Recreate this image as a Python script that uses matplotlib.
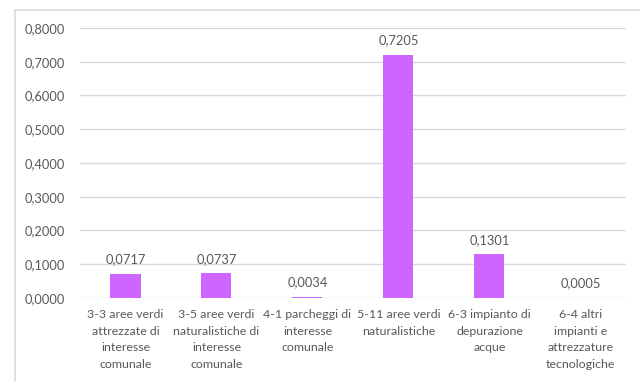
import matplotlib.pyplot as plt
from matplotlib.ticker import FuncFormatter, MultipleLocator
from matplotlib.lines import Line2D

# Data
categories = [
    "3-3 aree verdi\nattrezzate di\ninteresse\ncomunale",
    "3-5 aree verdi\nnaturalistiche di\ninteresse\ncomunale",
    "4-1 parcheggi di\ninteresse\ncomunale",
    "5-11 aree verdi\nnaturalistiche",
    "6-3 impianto di\ndepurazione\nacque",
    "6-4 altri\nimpianti e\nattrezzature\ntecnologiche",
]
values = [0.0717, 0.0737, 0.0034, 0.7205, 0.1301, 0.0005]

bar_color = "#cc66ff"
text_color = "#595959"
grid_color = "#d9d9d9"

plt.rcParams['font.family'] = ['Lato', 'DejaVu Sans']

fig = plt.figure(figsize=(6.4, 3.81), dpi=100)
ax = fig.add_axes([0.125, 0.218, 0.853, 0.7085])

x = range(len(values))
bars = ax.bar(x, values, width=0.33, color=bar_color, zorder=3)

def comma_fmt(v, pos=None):
    return f"{v:.4f}".replace(".", ",")

for xi, v in zip(x, values):
    ax.annotate(comma_fmt(v), (xi, v), xytext=(0, 6), textcoords="offset points",
                ha="center", va="bottom", fontsize=9.3, color=text_color)

ax.set_ylim(0, 0.8)
ax.set_xlim(-0.5, len(values) - 0.5)
ax.yaxis.set_major_locator(MultipleLocator(0.1))
ax.yaxis.set_major_formatter(FuncFormatter(comma_fmt))
ax.set_xticks(list(x))
ax.set_xticklabels(categories, linespacing=1.62)
ax.tick_params(axis="both", length=0, colors=text_color)
ax.tick_params(axis="x", pad=8, labelsize=8.9)
ax.tick_params(axis="y", pad=11, labelsize=9.3)
ax.grid(axis="y", color=grid_color, linewidth=1, zorder=0)
for s in ax.spines.values():
    s.set_visible(False)

# chart area border (left and top edges visible in the crop)
fig.add_artist(Line2D([0.023, 0.023], [0.0, 0.974], color=grid_color, linewidth=1.2,
                      transform=fig.transFigure))
fig.add_artist(Line2D([0.023, 1.0], [0.974, 0.974], color=grid_color, linewidth=1.2,
                      transform=fig.transFigure))

fig.savefig("out.png", dpi=100)
